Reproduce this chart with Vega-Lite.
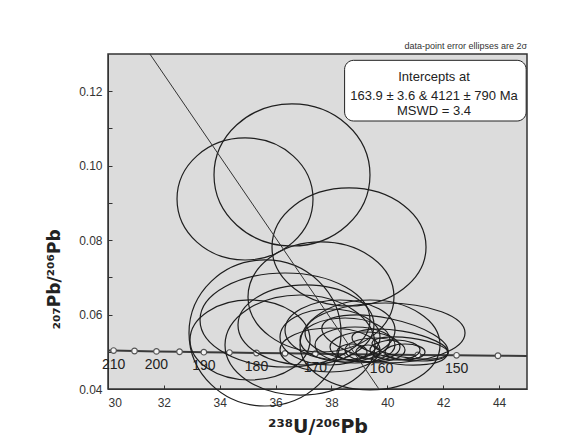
{
  "$schema": "https://vega.github.io/schema/vega-lite/v6.json",
  "width": 419,
  "height": 335,
  "autosize": {"type": "none"},
  "padding": {"left": 108, "top": 54, "right": 40, "bottom": 53},
  "background": "#ffffff",
  "config": {
    "font": "Liberation Sans",
    "view": {"fill": "#dcdcdc", "stroke": "#333333", "strokeWidth": 1.5},
    "axis": {"grid": false, "domainColor": "#333333", "tickColor": "#333333", "labelColor": "#333333", "labelFontSize": 12, "titleColor": "#222222", "titleFontWeight": "bold", "titleFontSize": 19, "titleFont": "DejaVu Sans"}
  },
  "title": {"text": "data-point error ellipses are 2σ", "anchor": "end", "fontSize": 9, "fontWeight": "normal", "color": "#333333", "offset": 3},
  "datasets": {
    "conc": [
      {"age": 211.3, "x": 30.0, "y": 0.05035, "m": false},
      {"age": 210, "x": 30.200, "y": 0.050325, "m": true},
      {"age": 205, "x": 30.949, "y": 0.050216, "m": true},
      {"age": 200, "x": 31.735, "y": 0.050108, "m": true},
      {"age": 195, "x": 32.561, "y": 0.050000, "m": true},
      {"age": 190, "x": 33.431, "y": 0.049893, "m": true},
      {"age": 185, "x": 34.348, "y": 0.049785, "m": true},
      {"age": 180, "x": 35.316, "y": 0.049679, "m": true},
      {"age": 175, "x": 36.339, "y": 0.049573, "m": true},
      {"age": 170, "x": 37.422, "y": 0.049466, "m": true},
      {"age": 165, "x": 38.572, "y": 0.049360, "m": true},
      {"age": 160, "x": 39.792, "y": 0.049255, "m": true},
      {"age": 155, "x": 41.092, "y": 0.049150, "m": true},
      {"age": 150, "x": 42.478, "y": 0.049045, "m": true},
      {"age": 145, "x": 43.960, "y": 0.048941, "m": true},
      {"age": 141.7, "x": 45.0, "y": 0.04887, "m": false}
    ],
    "ell": [
      {"id":1,"k":0,"x":37.339,"y":0.09105},{"id":1,"k":1,"x":34.905,"y":0.10744},{"id":1,"k":2,"x":32.471,"y":0.09105},{"id":1,"k":3,"x":34.905,"y":0.07466},
      {"id":2,"k":0,"x":39.379,"y":0.0975},{"id":2,"k":1,"x":36.587,"y":0.11658},{"id":2,"k":2,"x":33.795,"y":0.0975},{"id":2,"k":3,"x":36.587,"y":0.07842},
      {"id":3,"k":0,"x":41.385,"y":0.07816},{"id":3,"k":1,"x":38.628,"y":0.09401},{"id":3,"k":2,"x":35.871,"y":0.07816},{"id":3,"k":3,"x":38.628,"y":0.06231},
      {"id":4,"k":0,"x":40.238,"y":0.06472},{"id":4,"k":1,"x":37.625,"y":0.0795},{"id":4,"k":2,"x":35.012,"y":0.06472},{"id":4,"k":3,"x":37.625,"y":0.04994},
      {"id":5,"k":0,"x":38.342,"y":0.05505},{"id":5,"k":1,"x":35.621,"y":0.07467},{"id":5,"k":2,"x":32.9,"y":0.05505},{"id":5,"k":3,"x":35.621,"y":0.03543},
      {"id":6,"k":0,"x":39.38,"y":0.05854},{"id":6,"k":1,"x":36.337,"y":0.07117},{"id":6,"k":2,"x":33.294,"y":0.05854},{"id":6,"k":3,"x":36.337,"y":0.04591},
      {"id":7,"k":0,"x":39.522,"y":0.0572},{"id":7,"k":1,"x":37.088,"y":0.06795},{"id":7,"k":2,"x":34.654,"y":0.0572},{"id":7,"k":3,"x":37.088,"y":0.04645},
      {"id":8,"k":0,"x":39.559,"y":0.05182},{"id":8,"k":1,"x":36.874,"y":0.06526},{"id":8,"k":2,"x":34.189,"y":0.05182},{"id":8,"k":3,"x":36.874,"y":0.03838},
      {"id":9,"k":0,"x":41.886,"y":0.05182},{"id":9,"k":1,"x":39.38,"y":0.06391},{"id":9,"k":2,"x":36.874,"y":0.05182},{"id":9,"k":3,"x":39.38,"y":0.03973},
      {"id":10,"k":0,"x":40.275,"y":0.05585},{"id":10,"k":1,"x":38.306,"y":0.06391},{"id":10,"k":2,"x":36.337,"y":0.05585},{"id":10,"k":3,"x":38.306,"y":0.04779},
      {"id":11,"k":0,"x":39.738,"y":0.05397},{"id":11,"k":1,"x":37.948,"y":0.06149},{"id":11,"k":2,"x":36.158,"y":0.05397},{"id":11,"k":3,"x":37.948,"y":0.04645},
      {"id":12,"k":0,"x":40.096,"y":0.05317},{"id":12,"k":1,"x":38.485,"y":0.05908},{"id":12,"k":2,"x":36.874,"y":0.05317},{"id":12,"k":3,"x":38.485,"y":0.04726},
      {"id":13,"k":0,"x":40.275,"y":0.05182},{"id":13,"k":1,"x":38.843,"y":0.05666},{"id":13,"k":2,"x":37.411,"y":0.05182},{"id":13,"k":3,"x":38.843,"y":0.04698},
      {"id":14,"k":0,"x":40.454,"y":0.05129},{"id":14,"k":1,"x":39.201,"y":0.05532},{"id":14,"k":2,"x":37.948,"y":0.05129},{"id":14,"k":3,"x":39.201,"y":0.04726},
      {"id":15,"k":0,"x":40.633,"y":0.05048},{"id":15,"k":1,"x":39.559,"y":0.0537},{"id":15,"k":2,"x":38.485,"y":0.05048},{"id":15,"k":3,"x":39.559,"y":0.04726},
      {"id":16,"k":0,"x":41.17,"y":0.05048},{"id":16,"k":1,"x":40.275,"y":0.05317},{"id":16,"k":2,"x":39.38,"y":0.05048},{"id":16,"k":3,"x":40.275,"y":0.04779},
      {"id":17,"k":0,"x":41.349,"y":0.04994},{"id":17,"k":1,"x":40.633,"y":0.05209},{"id":17,"k":2,"x":39.917,"y":0.04994},{"id":17,"k":3,"x":40.633,"y":0.04779},
      {"id":18,"k":0,"x":39.272,"y":0.04994},{"id":18,"k":1,"x":38.735,"y":0.05209},{"id":18,"k":2,"x":38.198,"y":0.04994},{"id":18,"k":3,"x":38.735,"y":0.04779},
      {"id":19,"k":0,"x":39.738,"y":0.04994},{"id":19,"k":1,"x":39.308,"y":0.05182},{"id":19,"k":2,"x":38.878,"y":0.04994},{"id":19,"k":3,"x":39.308,"y":0.04806},
      {"id":20,"k":0,"x":42.172,"y":0.04967},{"id":20,"k":1,"x":40.371,"y":0.04811},{"id":20,"k":2,"x":38.735,"y":0.05397},{"id":20,"k":3,"x":40.536,"y":0.05553},
      {"id":21,"k":0,"x":42.172,"y":0.04967},{"id":21,"k":1,"x":39.759,"y":0.04739},{"id":21,"k":2,"x":37.661,"y":0.05666},{"id":21,"k":3,"x":40.074,"y":0.05894},
      {"id":22,"k":0,"x":42.781,"y":0.05505},{"id":22,"k":1,"x":39.917,"y":0.04699},{"id":22,"k":2,"x":37.053,"y":0.05505},{"id":22,"k":3,"x":39.917,"y":0.06311},
      {"id":23,"k":0,"x":39.738,"y":0.05048},{"id":23,"k":1,"x":37.948,"y":0.05639},{"id":23,"k":2,"x":36.158,"y":0.05048},{"id":23,"k":3,"x":37.948,"y":0.04457},
      {"id":24,"k":0,"x":37.232,"y":0.05317},{"id":24,"k":1,"x":35.084,"y":0.06392},{"id":24,"k":2,"x":32.936,"y":0.05317},{"id":24,"k":3,"x":35.084,"y":0.04242},
      {"id":25,"k":0,"x":42.172,"y":0.04967},{"id":25,"k":1,"x":40.765,"y":0.04836},{"id":25,"k":2,"x":39.451,"y":0.05236},{"id":25,"k":3,"x":40.858,"y":0.05368}
    ],
    "disc": [
      {"x": 31.5, "y": 0.13},
      {"x": 39.7, "y": 0.04}
    ]
  },
  "layer": [
    {
      "data": {"name": "conc"},
      "mark": {"type": "line", "stroke": "#3a3a3a", "strokeWidth": 2, "clip": true},
      "encoding": {
        "x": {"field": "x", "type": "quantitative", "scale": {"domain": [30, 45], "nice": false, "zero": false},
          "axis": {"title": "²³⁸U/²⁰⁶Pb", "values": [30,31,32,33,34,35,36,37,38,39,40,41,42,43,44], "labelExpr": "datum.value % 2 === 0 ? datum.label : ''", "tickSize": -4, "labelPadding": 12, "titlePadding": 9}},
        "y": {"field": "y", "type": "quantitative", "scale": {"domain": [0.04, 0.13], "nice": false, "zero": false},
          "axis": {"title": "₂₀₇Pb/²⁰⁶Pb", "titleFontSize": 17, "titleY": 225, "values": [0.04,0.05,0.06,0.07,0.08,0.09,0.10,0.11,0.12], "labelExpr": "round(datum.value*100) % 2 === 0 ? format(datum.value, '.2f') : ''", "tickSize": -4, "labelPadding": 10, "titlePadding": 15}}
      }
    },
    {
      "data": {"name": "conc"},
      "transform": [{"filter": "datum.m"}],
      "mark": {"type": "point", "filled": true, "fill": "#f4f4f4", "stroke": "#555555", "strokeWidth": 1.2, "size": 32, "opacity": 1},
      "encoding": {
        "x": {"field": "x", "type": "quantitative"},
        "y": {"field": "y", "type": "quantitative"}
      }
    },
    {
      "data": {"name": "conc"},
      "transform": [{"filter": "datum.m && datum.age % 10 === 0"}],
      "mark": {"type": "text", "fontSize": 14, "color": "#222222", "dy": 14, "align": "center", "baseline": "middle"},
      "encoding": {
        "x": {"field": "x", "type": "quantitative"},
        "y": {"field": "y", "type": "quantitative"},
        "text": {"field": "age", "type": "quantitative"}
      }
    },
    {
      "data": {"name": "ell"},
      "mark": {"type": "line", "interpolate": "cardinal-closed", "tension": -0.657, "stroke": "#1e1e1e", "strokeWidth": 1.2, "clip": false},
      "encoding": {
        "x": {"field": "x", "type": "quantitative"},
        "y": {"field": "y", "type": "quantitative"},
        "detail": {"field": "id", "type": "nominal"},
        "order": {"field": "k", "type": "quantitative"}
      }
    },
    {
      "data": {"name": "disc"},
      "mark": {"type": "line", "stroke": "#333333", "strokeWidth": 1, "clip": true},
      "encoding": {
        "x": {"field": "x", "type": "quantitative"},
        "y": {"field": "y", "type": "quantitative"}
      }
    },
    {
      "data": {"values": [{}]},
      "mark": {"type": "rect", "fill": "#888888", "opacity": 0.35, "cornerRadius": 9, "xOffset": 2, "yOffset": 3},
      "encoding": {
        "x": {"datum": 38.47}, "x2": {"datum": 44.97},
        "y": {"datum": 0.1283}, "y2": {"datum": 0.1120}
      }
    },
    {
      "data": {"values": [{}]},
      "mark": {"type": "rect", "fill": "#ffffff", "stroke": "#222222", "strokeWidth": 1, "cornerRadius": 9},
      "encoding": {
        "x": {"datum": 38.47}, "x2": {"datum": 44.97},
        "y": {"datum": 0.1283}, "y2": {"datum": 0.1120}
      }
    },
    {
      "data": {"values": [
        {"t": "Intercepts at", "yy": 0.1238},
        {"t": "163.9 ± 3.6 & 4121 ± 790 Ma", "yy": 0.1187},
        {"t": "MSWD = 3.4", "yy": 0.1147}
      ]},
      "mark": {"type": "text", "fontSize": 13, "color": "#222222", "align": "center", "baseline": "middle"},
      "encoding": {
        "x": {"datum": 41.67},
        "y": {"field": "yy", "type": "quantitative"},
        "text": {"field": "t"}
      }
    }
  ]
}
